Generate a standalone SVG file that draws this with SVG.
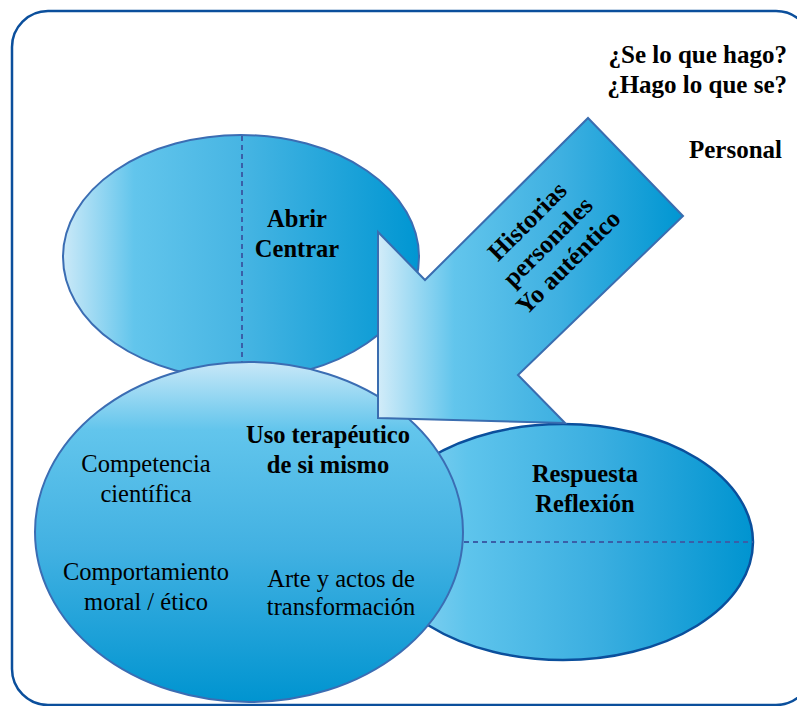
<svg xmlns="http://www.w3.org/2000/svg" width="797" height="706" viewBox="0 0 797 706">
<defs>
<linearGradient id="gh" x1="0" y1="0" x2="1" y2="0">
<stop offset="0" stop-color="#cbe9f8"/>
<stop offset="0.2" stop-color="#62c5ec"/>
<stop offset="0.5" stop-color="#47b5e3"/>
<stop offset="1" stop-color="#0096d2"/>
</linearGradient>
<linearGradient id="gr" x1="0" y1="0" x2="1" y2="0">
<stop offset="0" stop-color="#9ad8f3"/>
<stop offset="0.25" stop-color="#5ec4ec"/>
<stop offset="0.6" stop-color="#3aaee0"/>
<stop offset="1" stop-color="#0094d0"/>
</linearGradient>
<linearGradient id="gv" x1="0" y1="0" x2="0" y2="1">
<stop offset="0" stop-color="#c8e8f8"/>
<stop offset="0.2" stop-color="#62c5ec"/>
<stop offset="0.55" stop-color="#42b1e2"/>
<stop offset="1" stop-color="#0094d0"/>
</linearGradient>
<linearGradient id="ga" gradientUnits="userSpaceOnUse" x1="378" y1="0" x2="683" y2="0">
<stop offset="0" stop-color="#d2ecf9"/>
<stop offset="0.25" stop-color="#62c5ec"/>
<stop offset="0.6" stop-color="#3eb0e1"/>
<stop offset="1" stop-color="#0096d2"/>
</linearGradient>
</defs>
<style>
text{font-family:'Liberation Serif','Times New Roman',Tinos,'DejaVu Serif',serif;fill:#000;text-anchor:middle}
.b{font-weight:bold}
.e{text-anchor:end}
.dash{stroke:#3a5fa8;stroke-width:2;stroke-dasharray:5 4;fill:none}
</style>
<rect id="frame" x="12" y="11" width="800" height="694" rx="36" fill="#fff" stroke="#0b4f9c" stroke-width="2.5"/>
<g id="respuesta">
<ellipse cx="563" cy="542" rx="190" ry="118" fill="url(#gr)" stroke="#0b4f9c" stroke-width="2.5"/>
<line class="dash" x1="455" y1="542" x2="753" y2="542"/>
<text class="b" x="585" y="482" font-size="24.5">Respuesta</text>
<text class="b" x="585" y="512" font-size="24.5">Reflexión</text>
</g>
<g id="abrir">
<ellipse cx="241" cy="257" rx="178" ry="122" fill="url(#gh)" stroke="#3b6db3" stroke-width="2"/>
<line class="dash" x1="242" y1="136" x2="242" y2="370"/>
<text class="b" x="297" y="227" font-size="24.5">Abrir</text>
<text class="b" x="297" y="257" font-size="24.5">Centrar</text>
</g>
<g id="uso">
<ellipse cx="249" cy="532" rx="214" ry="170" fill="url(#gv)" stroke="#3b6db3" stroke-width="2"/>
<text class="b" x="328" y="443" font-size="24.5">Uso terapéutico</text>
<text class="b" x="328" y="473" font-size="24.5">de si mismo</text>
<text x="146" y="472" font-size="24.5">Competencia</text>
<text x="146" y="502" font-size="24.5">científica</text>
<text x="146" y="580" font-size="24.5">Comportamiento</text>
<text x="146" y="610" font-size="24.5">moral / ético</text>
<text x="341" y="587" font-size="24.5">Arte y actos de</text>
<text x="341" y="615" font-size="24.5">transformación</text>
</g>
<g id="arrow">
<polygon points="378,232 425,280 588,118 683,216 518,375 565,423 378,418" fill="url(#ga)" stroke="#3a6db0" stroke-width="2"/>
<g transform="translate(548,242) rotate(-45)">
<text class="b" x="0" y="-21" font-size="25.5">Historias</text>
<text class="b" x="0" y="8" font-size="25.5">personales</text>
<text class="b" x="0" y="37" font-size="25.5">Yo auténtico</text>
</g>
</g>
<g id="labels">
<text class="b e" x="787" y="63" font-size="25">¿Se lo que hago?</text>
<text class="b e" x="787" y="93" font-size="25">¿Hago lo que se?</text>
<text class="b e" x="782" y="158" font-size="25">Personal</text>
</g>
<g id="connectors"/>
</svg>
